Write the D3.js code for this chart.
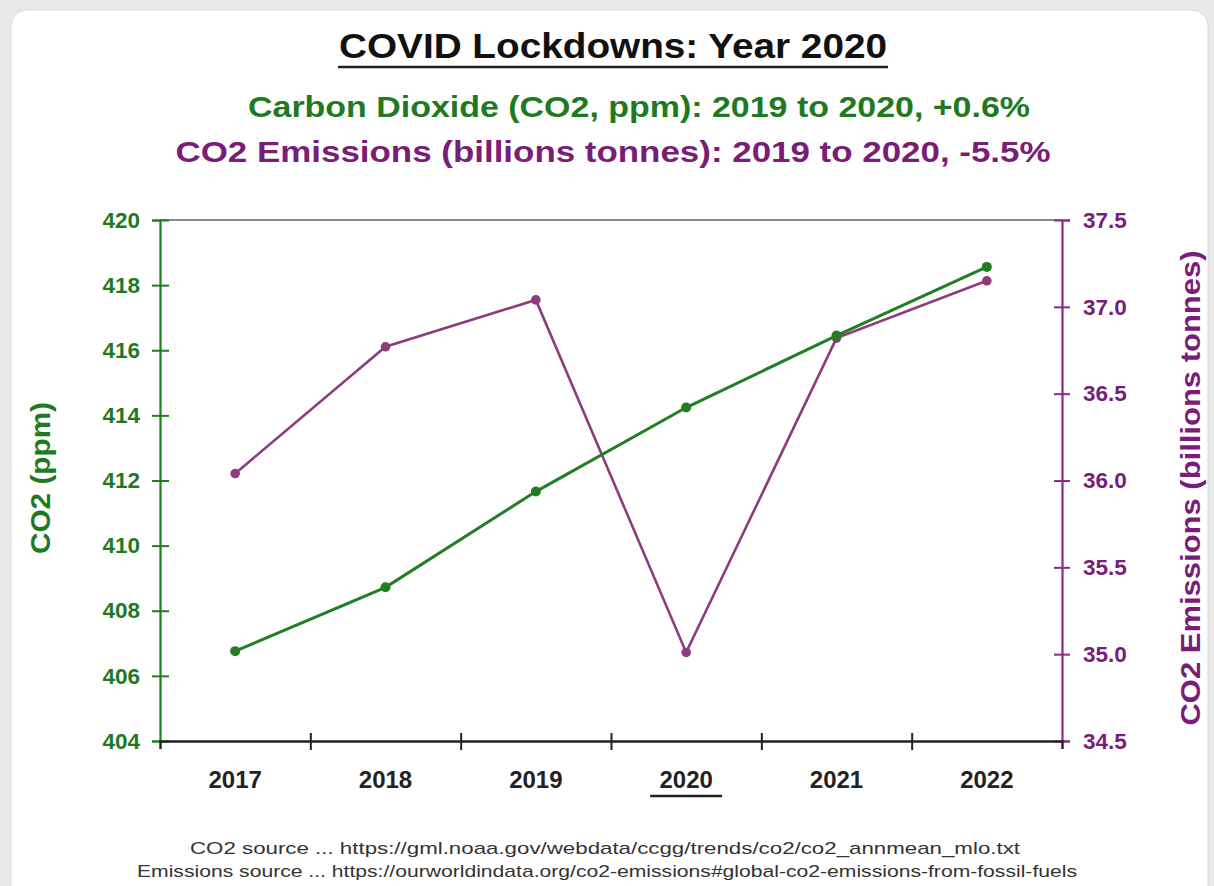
<!DOCTYPE html>
<html><head><meta charset="utf-8">
<script src="https://cdn.jsdelivr.net/npm/d3@7"></script>
<style>
html,body{margin:0;padding:0;background:#e9e9e9;}
svg{display:block;font-family:"Liberation Sans",Arial,sans-serif;}
</style></head>
<body>
<svg id="chart" width="1214" height="886"></svg>
<script>
const years = ["2017","2018","2019","2020","2021","2022"];
const co2ppm = [406.76, 408.72, 411.66, 414.24, 416.45, 418.56];
const emissions = [36.04, 36.77, 37.04, 35.01, 36.82, 37.15];
const leftTicks = [404,406,408,410,412,414,416,418,420];
const rightTicks = [34.5,35.0,35.5,36.0,36.5,37.0,37.5];

const GREEN = "#1f7f22", GREEN_TXT = "#1f7a1f", PURPLE_LINE = "#8e3c7e", PURPLE_TXT = "#7a1d78", PURPLE_AX = "#8b2a8a";

const svg = d3.select("#chart");
// card
svg.append("rect").attr("x",11).attr("y",10).attr("width",1197).attr("height",900)
  .attr("rx",16).attr("fill","#fff").attr("stroke","#d8d8d8");

const L = 160, R = 1062, T = 220, B = 741;
const x = d3.scaleBand().domain(years).range([L,R]);
const xb = d3.scaleLinear().domain([0,6]).range([L,R]);
const yL = d3.scaleLinear().domain([404,420]).range([B,T]);
const yR = d3.scaleLinear().domain([34.5,37.5]).range([B,T]);

function fitText(sel, w){ sel.attr("textLength", w).attr("lengthAdjust","spacingAndGlyphs"); }

// titles
svg.append("text").attr("x",613).attr("y",58).attr("text-anchor","middle")
  .attr("font-size",35).attr("font-weight","bold").attr("fill","#111")
  .text("COVID Lockdowns: Year 2020").call(fitText, 548);
svg.append("line").attr("x1",338).attr("x2",888).attr("y1",67).attr("y2",67).attr("stroke","#222").attr("stroke-width",2.5);
svg.append("text").attr("x",639).attr("y",117).attr("text-anchor","middle")
  .attr("font-size",30).attr("font-weight","bold").attr("fill",GREEN_TXT)
  .text("Carbon Dioxide (CO2, ppm): 2019 to 2020, +0.6%").call(fitText, 782);
svg.append("text").attr("x",613).attr("y",162).attr("text-anchor","middle")
  .attr("font-size",30).attr("font-weight","bold").attr("fill",PURPLE_TXT)
  .text("CO2 Emissions (billions tonnes): 2019 to 2020, -5.5%").call(fitText, 875);

// top border
svg.append("line").attr("x1",L).attr("x2",R).attr("y1",T).attr("y2",T).attr("stroke","#8a8a8a").attr("stroke-width",2);

// left axis
const gl = svg.append("g").attr("transform",`translate(${L},0)`)
  .call(d3.axisLeft(yL).tickValues(leftTicks).tickFormat(d3.format("d")).tickSize(8).tickPadding(12));
gl.select(".domain").attr("stroke",GREEN).attr("stroke-width",2.2);
gl.selectAll(".tick line").attr("x1",-8).attr("x2",9).attr("stroke",GREEN).attr("stroke-width",2);
gl.selectAll(".tick text").attr("fill",GREEN_TXT).attr("font-size",22.5).attr("font-weight","bold")
  .attr("font-family","Liberation Sans, Arial, sans-serif");

// right axis
const gr = svg.append("g").attr("transform",`translate(${R},0)`)
  .call(d3.axisRight(yR).tickValues(rightTicks).tickFormat(d3.format(".1f")).tickSize(8).tickPadding(13));
gr.select(".domain").attr("stroke",PURPLE_AX).attr("stroke-width",2.2);
gr.selectAll(".tick line").attr("x1",-8).attr("x2",8).attr("stroke",PURPLE_AX).attr("stroke-width",2);
gr.selectAll(".tick text").attr("fill",PURPLE_TXT).attr("font-size",22.5).attr("font-weight","bold")
  .attr("font-family","Liberation Sans, Arial, sans-serif");

// bottom axis (boundary ticks)
const gb = svg.append("g").attr("transform",`translate(0,${B})`)
  .call(d3.axisBottom(xb).tickValues([1,2,3,4,5]).tickFormat("").tickSize(8));
gb.select(".domain").attr("stroke","#222").attr("stroke-width",2.4);
gb.selectAll(".tick line").attr("y1",-8).attr("y2",9).attr("stroke","#222").attr("stroke-width",2);
// bottom labels
const gbl = svg.append("g").attr("transform",`translate(0,${B})`)
  .call(d3.axisBottom(x).tickSize(0).tickPadding(30));
gbl.select(".domain").remove();
gbl.selectAll(".tick text").attr("fill","#222").attr("font-size",24).attr("font-weight","bold")
  .attr("font-family","Liberation Sans, Arial, sans-serif");
svg.append("line").attr("x1",x("2020")+x.bandwidth()/2-36).attr("x2",x("2020")+x.bandwidth()/2+36)
  .attr("y1",796).attr("y2",796).attr("stroke","#222").attr("stroke-width",2.5);

// axis titles
svg.append("text").attr("transform",`translate(50,${478}) rotate(-90)`).attr("text-anchor","middle")
  .attr("font-size",28).attr("font-weight","bold").attr("fill",GREEN_TXT).text("CO2 (ppm)").call(fitText,152);
svg.append("text").attr("transform",`translate(1200,${488}) rotate(-90)`).attr("text-anchor","middle")
  .attr("font-size",28).attr("font-weight","bold").attr("fill",PURPLE_TXT)
  .text("CO2 Emissions (billions tonnes)").call(fitText,475);

// lines
const cx = d => x(d) + x.bandwidth()/2;
const lineL = d3.line().x((d,i)=>cx(years[i])).y(d=>yL(d));
const lineR = d3.line().x((d,i)=>cx(years[i])).y(d=>yR(d));
svg.append("path").datum(emissions).attr("d",lineR).attr("fill","none").attr("stroke",PURPLE_LINE).attr("stroke-width",2.6);
svg.selectAll(".pe").data(emissions).enter().append("circle")
  .attr("cx",(d,i)=>cx(years[i])).attr("cy",d=>yR(d)).attr("r",4.8).attr("fill",PURPLE_LINE);
svg.append("path").datum(co2ppm).attr("d",lineL).attr("fill","none").attr("stroke",GREEN).attr("stroke-width",3);
svg.selectAll(".pg").data(co2ppm).enter().append("circle")
  .attr("cx",(d,i)=>cx(years[i])).attr("cy",d=>yL(d)).attr("r",5).attr("fill",GREEN);

// sources
svg.append("text").attr("x",605).attr("y",854).attr("text-anchor","middle").attr("font-size",17).attr("fill","#333")
  .text("CO2 source ... https://gml.noaa.gov/webdata/ccgg/trends/co2/co2_annmean_mlo.txt").call(fitText,830);
svg.append("text").attr("x",607).attr("y",877).attr("text-anchor","middle").attr("font-size",17).attr("fill","#333")
  .text("Emissions source ... https://ourworldindata.org/co2-emissions#global-co2-emissions-from-fossil-fuels").call(fitText,940);
</script>
</body></html>
